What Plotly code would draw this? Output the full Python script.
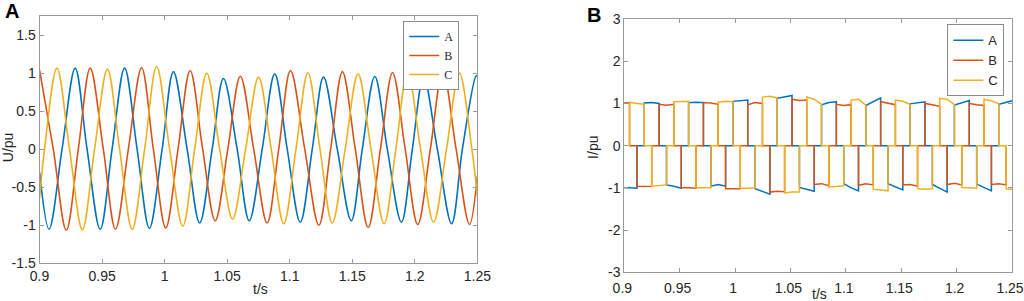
import plotly.graph_objects as go

# ---------------- Panel A: phase voltages (U/pu) ----------------
# key samples: extremes and zero crossings
ua_t = [0.9, 0.9076, 0.918, 0.9285, 0.938, 0.9485, 0.958, 0.968, 0.978, 0.9878, 0.998,
        1.007, 1.018, 1.028, 1.038, 1.047, 1.058, 1.0676, 1.078, 1.088, 1.098, 1.1084,
        1.118, 1.127, 1.138, 1.1492, 1.158, 1.168, 1.178, 1.1893, 1.198, 1.207, 1.218,
        1.2294, 1.238, 1.249, 1.25]
ua_v = [-0.3, -1.053, 0, 1.066, 0, -1.053, 0, 1.066, 0, -1.04, 0,
        1.02, 0, -0.97, 0, 0.93, 0, -0.94, 0, 0.99, 0, -0.96,
        0, 0.947, 0, -0.94, 0, 0.955, 0, -0.96, 0, 0.947, 0,
        -0.98, 0, 0.964, 0.96]

ub_t = [0.9, 0.911, 0.9214, 0.931, 0.9405, 0.951, 0.9607, 0.971, 0.9816, 0.991, 1.0009,
        1.0107, 1.0204, 1.0304, 1.0404, 1.0505, 1.0605, 1.0712, 1.0819, 1.0912, 1.1006,
        1.112, 1.1233, 1.1327, 1.1421, 1.1524, 1.1627, 1.1725, 1.1822, 1.1923, 1.2023,
        1.2124, 1.2224, 1.233, 1.2437, 1.25]
ub_v = [1.044, 0, -1.066, 0, 1.066, 0, -1.053, 0, 1.07, 0, -1.035,
        0, 1.035, 0, -0.94, 0, 0.96, 0, -0.97, 0, 1.035,
        0, -1.0, 0, 1.02, 0, -1.03, 0, 1.008, 0, -0.99,
        0, 1.03, 0, -0.99, -0.35]

uc_t = [0.9, 0.904, 0.9139, 0.924, 0.9342, 0.944, 0.9543, 0.964, 0.9741, 0.984, 0.9936,
        1.004, 1.0145, 1.024, 1.0337, 1.044, 1.0543, 1.0647, 1.0751, 1.0852, 1.0952,
        1.105, 1.1145, 1.1242, 1.134, 1.1443, 1.1546, 1.165, 1.1754, 1.1848, 1.1942,
        1.2046, 1.215, 1.2253, 1.2356, 1.2456, 1.25]
uc_v = [-0.65, 0, 1.066, 0, -1.06, 0, 1.053, 0, -1.053, 0, 1.088,
        0, -1.013, 0, 1.0, 0, -0.92, 0, 0.947, 0, -0.98,
        0, 1.008, 0, -0.97, 0, 0.99, 0, -0.98, 0, 1.02,
        0, -0.96, 0, 1.0, 0, -0.62]

# ---------------- Panel B: phase currents (I/pu) ----------------
# switching instants of the positive conduction intervals (owner cycles B, C, A)
pos_bounds = [0.8914, 0.9047, 0.9180, 0.9314, 0.9447, 0.9580, 0.9714, 0.9847, 0.9980,
              1.0114, 1.0247, 1.0380, 1.0514, 1.0647, 1.0780, 1.0914, 1.1047, 1.1180,
              1.1314, 1.1447, 1.1580, 1.1714, 1.1847, 1.1980, 1.2114, 1.2247, 1.2380, 1.2514]
pos_owner = ["B", "C", "A"]
# plateau levels: start, middle, end
pos_start = [1.02, 1.03, 1.01, 0.98, 1.04, 1.02, 1.02, 1.03, 1.05, 0.97, 1.15, 1.12, 1.10, 1.15,
             0.97, 0.98, 1.08, 0.95, 1.04, 1.08, 0.99, 1.00, 1.12, 0.96, 1.00, 1.10, 0.98]
pos_mid = [1.02, 1.00, 1.02, 0.96, 1.05, 1.03, 1.01, 1.05, 1.06, 1.02, 1.17, 1.15, 1.07, 1.10,
           1.02, 0.95, 1.10, 1.05, 1.00, 1.05, 1.02, 0.97, 1.10, 1.02, 0.97, 1.06, 1.03]
pos_end = [1.01, 0.98, 1.00, 0.98, 1.05, 1.02, 0.98, 1.04, 1.08, 1.00, 1.13, 1.19, 1.08, 0.98,
           1.04, 0.97, 0.96, 1.13, 0.97, 0.98, 1.04, 0.93, 0.97, 1.07, 0.95, 1.00, 1.07]

# switching instants of the negative conduction intervals (owner cycles A, B, C)
neg_bounds = [0.8981, 0.9114, 0.9247, 0.9381, 0.9514, 0.9647, 0.9781, 0.9914, 1.0047,
              1.0181, 1.0314, 1.0447, 1.0581, 1.0714, 1.0847, 1.0981, 1.1114, 1.1247,
              1.1381, 1.1514, 1.1647, 1.1781, 1.1914, 1.2047, 1.2181, 1.2314, 1.2447, 1.2581]
neg_owner = ["A", "B", "C"]
neg_start = [-1.00, -0.97, -0.96, -0.93, -1.00, -1.00, -0.96, -1.02, -1.01, -1.02, -1.10, -1.12,
             -0.99, -0.92, -0.98, -0.90, -0.94, -1.03, -0.90, -0.93, -1.02, -0.92, -0.92, -0.99,
             -0.91, -0.92, -1.02]
neg_mid = [-1.00, -0.96, -0.94, -0.96, -1.00, -1.00, -0.92, -1.02, -1.01, -1.08, -1.08, -1.10,
           -1.04, -0.90, -0.97, -1.00, -0.90, -1.05, -0.98, -0.92, -1.03, -1.02, -0.89, -1.00,
           -1.00, -0.90, -1.04]
neg_end = [-1.01, -0.96, -0.93, -1.01, -1.01, -1.00, -0.96, -1.02, -1.00, -1.15, -1.09, -1.10,
           -1.08, -0.95, -0.95, -1.07, -0.93, -1.07, -1.05, -0.96, -1.02, -1.10, -0.93, -1.01,
           -1.07, -0.93, -1.05]

phases = ["A", "B", "C"]
colors = {"A": "#0072BD", "B": "#D95319", "C": "#EDB120"}
x_ticks = [0.9, 0.95, 1.0, 1.05, 1.1, 1.15, 1.2, 1.25]
x_tick_text = ["0.9", "0.95", "1", "1.05", "1.1", "1.15", "1.2", "1.25"]
ya_ticks = [-1.5, -1, -0.5, 0, 0.5, 1, 1.5]
ya_tick_text = ["-1.5", "-1", "-0.5", "0", "0.5", "1", "1.5"]
yb_ticks = [-3, -2, -1, 0, 1, 2, 3]
yb_tick_text = ["-3", "-2", "-1", "0", "1", "2", "3"]


def current_trace(ph):
    plateaus = []
    for j in range(len(pos_start)):
        if pos_owner[j % 3] == ph:
            plateaus.append((pos_bounds[j], pos_bounds[j + 1], pos_start[j], pos_mid[j], pos_end[j]))
    for j in range(len(neg_start)):
        if neg_owner[j % 3] == ph:
            plateaus.append((neg_bounds[j], neg_bounds[j + 1], neg_start[j], neg_mid[j], neg_end[j]))
    plateaus.sort()
    xs, ys = [], []
    for t0, t1, s, m, e in plateaus:
        xs += [t0, t0, (t0 + t1) / 2, t1, t1]
        ys += [0, s, m, e, 0]
    return xs, ys


fig = go.Figure()
volt = {"A": (ua_t, ua_v), "B": (ub_t, ub_v), "C": (uc_t, uc_v)}
for ph in phases:
    t, v = volt[ph]
    fig.add_trace(go.Scatter(x=t, y=v, mode="lines", name=ph,
                             line=dict(color=colors[ph], width=1.6, shape="spline", smoothing=1.0),
                             xaxis="x", yaxis="y", legend="legend"))
for ph in phases:
    xs, ys = current_trace(ph)
    fig.add_trace(go.Scatter(x=xs, y=ys, mode="lines", name=ph,
                             line=dict(color=colors[ph], width=1.5),
                             xaxis="x2", yaxis="y2", legend="legend2"))

axis_common = dict(showgrid=False, zeroline=False, showline=True, linecolor="#9a9a9a",
                   linewidth=1, mirror="ticks", ticks="inside", ticklen=4, tickcolor="#9a9a9a",
                   automargin=False, ticklabeloverflow="allow",
                   tickfont=dict(family="Liberation Sans", size=14, color="#262626"))

fig.update_layout(
    width=1024, height=301, autosize=False,
    margin=dict(l=0, r=0, t=0, b=0),
    paper_bgcolor="white", plot_bgcolor="white",
    xaxis=dict(domain=[0.0386, 0.4662], range=[0.9, 1.25], tickvals=x_ticks,
               ticktext=x_tick_text, anchor="y", **axis_common),
    yaxis=dict(domain=[0.1252, 0.9478], range=[-1.5, 1.755], tickvals=ya_ticks,
               ticktext=ya_tick_text, anchor="x", **axis_common),
    xaxis2=dict(domain=[0.6097, 0.9883], range=[0.9, 1.25], tickvals=x_ticks,
                ticktext=x_tick_text, anchor="y2", ticklabelshift=-2,
                ticklabelstandoff=3, **axis_common),
    yaxis2=dict(domain=[0.0953, 0.9369], range=[-3, 3], tickvals=yb_ticks,
                ticktext=yb_tick_text, anchor="x2", **axis_common),
    legend=dict(x=0.4485, y=0.930, xanchor="right", yanchor="top",
                bgcolor="white", bordercolor="#8c8c8c", borderwidth=1,
                font=dict(family="Liberation Serif", size=12, color="#262626"),
                itemwidth=30, tracegroupgap=0),
    legend2=dict(x=0.9808, y=0.919, xanchor="right", yanchor="top",
                 bgcolor="white", bordercolor="#8c8c8c", borderwidth=1,
                 font=dict(family="Liberation Sans", size=13, color="#262626"),
                 itemwidth=30, tracegroupgap=0),
    showlegend=True,
)

label_font = dict(family="Liberation Sans", size=14, color="#262626")
fig.add_annotation(text="<b>A</b>", xref="paper", yref="paper", x=0.003, y=1.005,
                   xanchor="left", yanchor="top", showarrow=False,
                   font=dict(family="Liberation Sans", size=20, color="black"))
fig.add_annotation(text="<b>B</b>", xref="paper", yref="paper", x=0.571, y=0.995,
                   xanchor="left", yanchor="top", showarrow=False,
                   font=dict(family="Liberation Sans", size=20, color="black"))
fig.add_annotation(text="U/pu", xref="paper", yref="paper", x=0.0085, y=0.51,
                   xanchor="center", yanchor="middle", textangle=-90, showarrow=False,
                   font=label_font)
fig.add_annotation(text="t/s", xref="paper", yref="paper", x=0.254, y=0.04,
                   xanchor="center", yanchor="middle", showarrow=False, font=label_font)
fig.add_annotation(text="I/pu", xref="paper", yref="paper", x=0.5795, y=0.51,
                   xanchor="center", yanchor="middle", textangle=-90, showarrow=False,
                   font=label_font)
fig.add_annotation(text="t/s", xref="paper", yref="paper", x=0.8005, y=0.022,
                   xanchor="center", yanchor="middle", showarrow=False, font=label_font)

fig.write_html("out.html", config={"displayModeBar": False},
               post_script="document.body.style.margin='0';document.body.style.overflow='hidden';")
